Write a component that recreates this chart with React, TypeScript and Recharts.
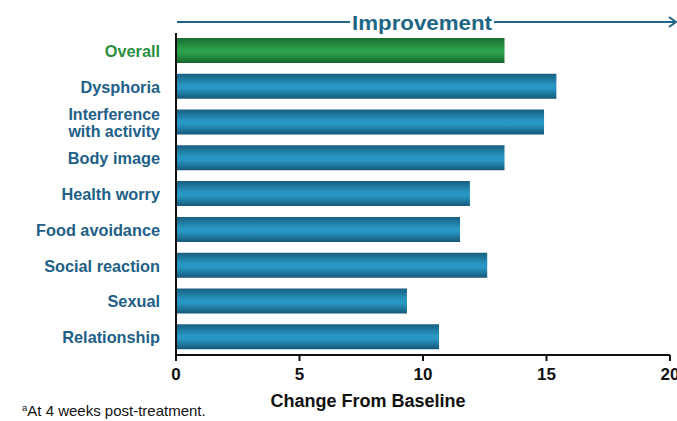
import React from 'react';
import { BarChart, Bar, XAxis, YAxis, Cell } from 'recharts';

const categories = [
  'Overall',
  'Dysphoria',
  'Interference with activity',
  'Body image',
  'Health worry',
  'Food avoidance',
  'Social reaction',
  'Sexual',
  'Relationship',
];
const changeValues = [13.3, 15.4, 14.9, 13.3, 11.9, 11.5, 12.6, 9.35, 10.65];
const xTicks = [0, 5, 10, 15, 20];

const data = categories.map((name, i) => ({ name, value: changeValues[i] }));

const FONT = '"Liberation Sans", Arial, sans-serif';
const LABEL_BLUE = '#1e6087';
const LABEL_GREEN = '#2a9040';

const YTick = (props: any) => {
  const { y, payload } = props;
  const x = 160;
  const name: string = payload.value;
  const fill = name === 'Overall' ? LABEL_GREEN : LABEL_BLUE;
  if (name === 'Interference with activity') {
    return (
      <g>
        <text x={x} y={y - 2} textAnchor="end" fontFamily={FONT} fontWeight="bold" fontSize={16} fill={fill}>
          Interference
        </text>
        <text x={x} y={y + 15} textAnchor="end" fontFamily={FONT} fontWeight="bold" fontSize={16} fill={fill}>
          with activity
        </text>
      </g>
    );
  }
  return (
    <text x={x} y={y} dy={6} textAnchor="end" fontFamily={FONT} fontWeight="bold" fontSize={16.3} fill={fill}>
      {name}
    </text>
  );
};

const XTick = (props: any) => {
  const { x, y, payload } = props;
  return (
    <text x={x} y={y} dy={17} textAnchor="middle" fontFamily={FONT} fontWeight="bold" fontSize={17} fill="#111">
      {payload.value}
    </text>
  );
};

export default function App() {
  return (
    <div style={{ position: 'absolute', left: 0, top: 0, width: 677, height: 421, background: '#fff', overflow: 'hidden' }}>
      <BarChart
        width={677}
        height={421}
        data={data}
        layout="vertical"
        margin={{ top: 33, right: 7, left: 0, bottom: 36 }}
        barSize={25}
      >
        <defs>
          <linearGradient id="gBlue" x1="0" y1="0" x2="0" y2="1">
            <stop offset="0%" stopColor="#185f7f" />
            <stop offset="45%" stopColor="#2896c3" />
            <stop offset="60%" stopColor="#2896c3" />
            <stop offset="100%" stopColor="#165877" />
          </linearGradient>
          <linearGradient id="gGreen" x1="0" y1="0" x2="0" y2="1">
            <stop offset="0%" stopColor="#1b6e30" />
            <stop offset="45%" stopColor="#2aa04a" />
            <stop offset="60%" stopColor="#2aa04a" />
            <stop offset="100%" stopColor="#18652b" />
          </linearGradient>
        </defs>
        <XAxis
          type="number"
          domain={[0, 20]}
          ticks={xTicks}
          height={30}
          axisLine={{ stroke: '#111', strokeWidth: 2 }}
          tickLine={{ stroke: '#111', strokeWidth: 2 }}
          tickSize={6}
          tick={<XTick />}
          interval={0}
        />
        <YAxis
          type="category"
          dataKey="name"
          width={176}
          axisLine={{ stroke: '#111', strokeWidth: 2 }}
          tickLine={false}
          tickMargin={0}
          tick={<YTick />}
          interval={0}
        />
        <Bar dataKey="value" isAnimationActive={false}>
          {data.map((d, i) => (
            <Cell key={i} fill={i === 0 ? 'url(#gGreen)' : 'url(#gBlue)'} />
          ))}
        </Bar>
      </BarChart>
      <svg width={677} height={421} style={{ position: 'absolute', left: 0, top: 0, pointerEvents: 'none' }}>
        <line x1={177} y1={22} x2={350} y2={22} stroke="#1f6684" strokeWidth={2} />
        <line x1={494} y1={22} x2={675} y2={22} stroke="#1f6684" strokeWidth={2} />
        <polyline points="669,17 676,22 669,27" fill="none" stroke="#1f6684" strokeWidth={2} />
        <text x={422} y={30} textAnchor="middle" fontFamily={FONT} fontWeight="bold" fontSize={21} fill="#1f6684" textLength={140} lengthAdjust="spacingAndGlyphs">
          Improvement
        </text>
        <text x={368} y={407} textAnchor="middle" fontFamily={FONT} fontWeight="bold" fontSize={18} fill="#111">
          Change From Baseline
        </text>
        <text x={22} y={416} fontFamily={FONT} fontSize={15} fill="#111">
          <tspan fontSize={9.5} dy={-5}>a</tspan>
          <tspan dy={5}>At 4 weeks post-treatment.</tspan>
        </text>
      </svg>
    </div>
  );
}
